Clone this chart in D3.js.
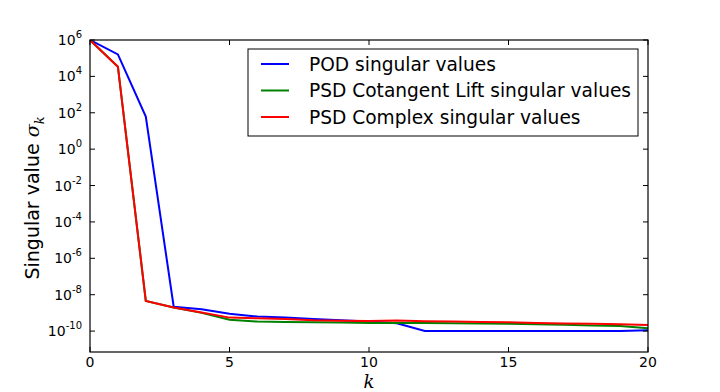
<!DOCTYPE html>
<html>
<head>
<meta charset="utf-8">
<script src="https://cdn.jsdelivr.net/npm/d3@7"></script>
<style>
  body { margin: 0; background: #fff; }
  svg { font-family: "DejaVu Sans", sans-serif; }
</style>
</head>
<body>
<div id="chart"></div>
<script>
// Data (log10 of singular values)
var ks = d3.range(0, 21)
var podLog = [6, 5.21, 1.79, -8.66, -8.8, -9.05, -9.2, -9.25, -9.33, -9.4, -9.47, -9.57, -10, -10, -10, -10, -10, -10, -10, -10, -9.95]
var cotLog = [6, 4.53, -8.34, -8.7, -9.0, -9.38, -9.48, -9.5, -9.52, -9.53, -9.55, -9.56, -9.56, -9.57, -9.58, -9.6, -9.62, -9.65, -9.7, -9.72, -9.85]
var cpxLog = [6, 4.53, -8.34, -8.7, -8.98, -9.26, -9.3, -9.33, -9.4, -9.43, -9.45, -9.42, -9.46, -9.48, -9.5, -9.52, -9.55, -9.58, -9.6, -9.63, -9.66]
var seriesNames = ['POD singular values', 'PSD Cotangent Lift singular values', 'PSD Complex singular values']
var seriesColors = ['#0000ff', '#008000', '#ff0000']
var yTickExp = [6, 4, 2, 0, -2, -4, -6, -8, -10]
var xTicks = [0, 5, 10, 15, 20]

var width = 720, height = 392
var margin = { top: 40, right: 72, bottom: 40, left: 90 }
var chartWidth = width - margin.left - margin.right
var chartHeight = height - margin.top - margin.bottom

var xScale = d3.scaleLinear().domain([0, 20]).range([0, chartWidth])
var yScale = d3.scaleLog().domain([Math.pow(10, -11.15), 1e6]).range([chartHeight, 0])

var svg = d3.select('#chart').append('svg')
  .attr('width', width)
  .attr('height', height)

var g = svg.append('g')
  .attr('transform', 'translate(' + margin.left + ',' + margin.top + ')')

// Lines
var allSeries = [podLog, cotLog, cpxLog]
var line = d3.line()
  .x(function (d) { return xScale(d[0]) })
  .y(function (d) { return yScale(Math.pow(10, d[1])) })

svg.append('defs').append('clipPath').attr('id', 'clip')
  .append('rect').attr('width', chartWidth).attr('height', chartHeight)

var gLines = g.append('g').attr('clip-path', 'url(#clip)')
allSeries.forEach(function (s, i) {
  gLines.append('path')
    .datum(ks.map(function (k) { return [k, s[k]] }))
    .attr('fill', 'none')
    .attr('stroke', seriesColors[i])
    .attr('stroke-width', 2)
    .attr('d', line)
})

// Frame
g.append('rect')
  .attr('width', chartWidth)
  .attr('height', chartHeight)
  .attr('fill', 'none')
  .attr('stroke', '#000')
  .attr('stroke-width', 1.2)

// Ticks (inside, all four sides)
var tickLen = 5
xTicks.forEach(function (t) {
  var x = xScale(t)
  g.append('line').attr('x1', x).attr('x2', x).attr('y1', chartHeight).attr('y2', chartHeight - tickLen).attr('stroke', '#000')
  g.append('line').attr('x1', x).attr('x2', x).attr('y1', 0).attr('y2', tickLen).attr('stroke', '#000')
  g.append('text')
    .attr('x', x)
    .attr('y', chartHeight + 15)
    .attr('text-anchor', 'middle')
    .attr('font-size', 14)
    .text(t)
})

yTickExp.forEach(function (e) {
  var y = yScale(Math.pow(10, e))
  g.append('line').attr('x1', 0).attr('x2', tickLen).attr('y1', y).attr('y2', y).attr('stroke', '#000')
  g.append('line').attr('x1', chartWidth).attr('x2', chartWidth - tickLen).attr('y1', y).attr('y2', y).attr('stroke', '#000')
  var txt = g.append('text')
    .attr('x', -8)
    .attr('y', y + 5)
    .attr('text-anchor', 'end')
    .attr('font-size', 14)
  txt.append('tspan').text('10')
  txt.append('tspan').attr('dy', -7).attr('font-size', 10).text(e)
})

// Axis labels
g.append('text')
  .attr('x', chartWidth / 2)
  .attr('y', chartHeight + 36)
  .attr('text-anchor', 'middle')
  .attr('font-size', 18)
  .attr('font-style', 'italic')
  .attr('font-family', '"DejaVu Serif", serif')
  .text('k')

var yl = g.append('text')
  .attr('transform', 'translate(-51,' + (chartHeight / 2 + 2) + ') rotate(-90)')
  .attr('text-anchor', 'middle')
  .attr('font-size', 19)
yl.append('tspan').text('Singular value ')
yl.append('tspan').attr('font-style', 'italic').attr('font-family', '"DejaVu Serif", serif').text('σ')
yl.append('tspan').attr('font-style', 'italic').attr('font-family', '"DejaVu Serif", serif').attr('font-size', 13).attr('dy', 5).text('k')

// Legend
var legend = svg.append('g').attr('transform', 'translate(248,49)')
legend.append('rect')
  .attr('width', 390)
  .attr('height', 87)
  .attr('fill', '#fff')
  .attr('stroke', '#000')
  .attr('stroke-width', 1)
seriesNames.forEach(function (name, i) {
  var y = 15 + i * 26.5
  legend.append('line')
    .attr('x1', 13).attr('x2', 41)
    .attr('y1', y).attr('y2', y)
    .attr('stroke', seriesColors[i])
    .attr('stroke-width', 2)
  legend.append('text')
    .attr('x', 61)
    .attr('y', y + 6.5)
    .attr('font-size', 18.6)
    .text(name)
})
</script>
</body>
</html>
